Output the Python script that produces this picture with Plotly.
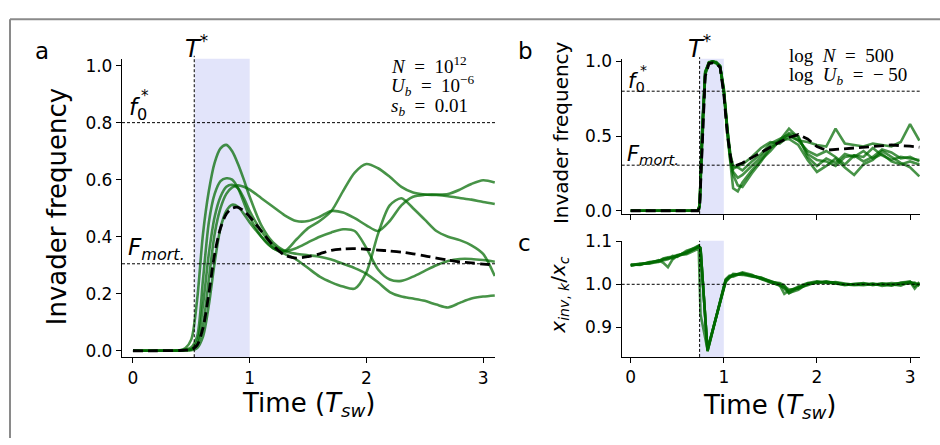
import plotly.graph_objects as go

W, H = 940, 445
def X(px): return px / W
def Y(py): return 1 - py / H

# ---------------- Panel a data ----------------
ta = [0, 0.2, 0.4, 0.45, 0.5, 0.55, 0.6, 0.65, 0.7, 0.75, 0.8, 0.85, 0.9, 0.95, 1.0,
      1.1, 1.2, 1.3, 1.4, 1.5, 1.6, 1.7, 1.8, 1.9, 2.0, 2.1, 2.2, 2.3, 2.4, 2.5,
      2.6, 2.7, 2.8, 2.9, 3.0, 3.1]
a_run1 = [0, 0, 0.002, 0.01, 0.04, 0.18, 0.41, 0.56, 0.66, 0.71, 0.722, 0.70, 0.655, 0.60, 0.54,
          0.44, 0.38, 0.35, 0.34, 0.335, 0.33, 0.32, 0.305, 0.29, 0.27, 0.24, 0.206, 0.19, 0.183, 0.175,
          0.162, 0.152, 0.168, 0.183, 0.19, 0.194]
a_run2 = [0, 0, 0.001, 0.004, 0.012, 0.05, 0.25, 0.45, 0.55, 0.595, 0.605, 0.60, 0.57, 0.52, 0.47,
          0.40, 0.36, 0.35, 0.39, 0.43, 0.455, 0.49, 0.56, 0.625, 0.655, 0.64, 0.61, 0.575, 0.555, 0.548,
          0.546, 0.542, 0.536, 0.53, 0.522, 0.515]
a_run3 = [0, 0, 0.001, 0.003, 0.006, 0.03, 0.16, 0.34, 0.47, 0.54, 0.575, 0.582, 0.57, 0.535, 0.49,
          0.42, 0.37, 0.35, 0.36, 0.38, 0.40, 0.415, 0.426, 0.42, 0.36, 0.285, 0.25, 0.245, 0.26, 0.28,
          0.30, 0.315, 0.322, 0.322, 0.318, 0.312]
a_run4 = [0, 0, 0.001, 0.002, 0.004, 0.02, 0.09, 0.25, 0.41, 0.50, 0.55, 0.573, 0.58, 0.575, 0.565,
          0.535, 0.505, 0.475, 0.455, 0.455, 0.47, 0.49, 0.485, 0.465, 0.44, 0.42, 0.455, 0.51, 0.54, 0.547,
          0.548, 0.55, 0.565, 0.585, 0.598, 0.59]
a_run5 = [0, 0, 0, 0.001, 0.002, 0.01, 0.05, 0.16, 0.31, 0.43, 0.49, 0.512, 0.505, 0.48, 0.45,
          0.40, 0.36, 0.34, 0.32, 0.29, 0.26, 0.24, 0.225, 0.218, 0.275, 0.41, 0.51, 0.535, 0.50, 0.46,
          0.42, 0.40, 0.388, 0.37, 0.34, 0.262]
a_mean = [0, 0, 0.001, 0.002, 0.004, 0.02, 0.08, 0.2, 0.34, 0.43, 0.48, 0.50, 0.503, 0.49, 0.47,
          0.42, 0.37, 0.335, 0.325, 0.33, 0.34, 0.352, 0.357, 0.358, 0.356, 0.353, 0.35, 0.346, 0.34, 0.333,
          0.325, 0.318, 0.312, 0.308, 0.304, 0.30]
a_runs = [a_run1, a_run2, a_run3, a_run4, a_run5]

# ---------------- Panel b data ----------------
tb = [0, 0.5, 0.72, 0.74, 0.77, 0.8, 0.84, 0.88, 0.92, 0.96, 1.0, 1.04, 1.07,
      1.1, 1.15, 1.2, 1.3, 1.4, 1.5, 1.6, 1.7, 1.8, 1.9, 2.0, 2.1, 2.2, 2.3, 2.4, 2.5,
      2.6, 2.7, 2.8, 2.9, 3.0, 3.1]
b_run1 = [0, 0, 0, 0.04, 0.58, 0.93, 0.99, 1.0, 0.99, 0.97, 0.81, 0.53, 0.37,
          0.28, 0.30, 0.31, 0.36, 0.42, 0.46, 0.45, 0.50, 0.47, 0.46, 0.44, 0.43, 0.55, 0.45, 0.44, 0.43,
          0.45, 0.44, 0.43, 0.46, 0.58, 0.47]
b_run2 = [0, 0, 0, 0.03, 0.55, 0.92, 0.99, 1.0, 0.99, 0.965, 0.80, 0.50, 0.33,
          0.15, 0.13, 0.19, 0.27, 0.34, 0.40, 0.47, 0.55, 0.49, 0.38, 0.34, 0.33, 0.30, 0.36, 0.37, 0.33,
          0.36, 0.41, 0.39, 0.35, 0.36, 0.33]
b_run3 = [0, 0, 0, 0.02, 0.52, 0.91, 0.985, 0.995, 0.985, 0.96, 0.79, 0.51, 0.34,
          0.24, 0.17, 0.16, 0.25, 0.33, 0.42, 0.46, 0.52, 0.50, 0.36, 0.30, 0.35, 0.32, 0.38, 0.36, 0.40,
          0.35, 0.38, 0.33, 0.31, 0.33, 0.31]
b_run4 = [0, 0, 0, 0.03, 0.56, 0.93, 0.995, 1.0, 0.995, 0.97, 0.82, 0.54, 0.38,
          0.30, 0.29, 0.27, 0.33, 0.38, 0.45, 0.48, 0.51, 0.47, 0.40, 0.37, 0.40, 0.36, 0.31, 0.37, 0.36,
          0.42, 0.37, 0.34, 0.36, 0.35, 0.34]
b_run5 = [0, 0, 0, 0.035, 0.57, 0.92, 0.99, 1.0, 0.99, 0.965, 0.80, 0.52, 0.35,
          0.26, 0.22, 0.24, 0.30, 0.36, 0.43, 0.47, 0.48, 0.44, 0.34, 0.26, 0.30, 0.35, 0.29, 0.24, 0.31,
          0.34, 0.40, 0.36, 0.32, 0.29, 0.23]
b_runs = [b_run1, b_run2, b_run3, b_run4, b_run5]
tbm = [0, 0.5, 0.72, 0.74, 0.77, 0.8, 0.84, 0.88, 0.92, 0.96, 1.0, 1.04, 1.08, 1.12, 1.2,
       1.3, 1.4, 1.5, 1.6, 1.7, 1.8, 1.9, 2.0, 2.1, 2.2, 2.4, 2.6, 2.8, 3.0, 3.1]
b_mean = [0, 0, 0.0, 0.02, 0.5, 0.9, 0.985, 0.99, 0.985, 0.96, 0.78, 0.5, 0.33, 0.30, 0.32,
          0.355, 0.39, 0.43, 0.46, 0.49, 0.51, 0.48, 0.43, 0.405, 0.41, 0.415, 0.43, 0.44, 0.432, 0.425]

# ---------------- Panel c data ----------------
tc = [0, 0.1, 0.2, 0.3, 0.35, 0.4, 0.45, 0.5, 0.6, 0.7, 0.73, 0.75, 0.825, 1.02, 1.06,
      1.1, 1.2, 1.3, 1.4, 1.5, 1.6, 1.65, 1.7, 1.8, 1.9, 2.0, 2.1, 2.2, 2.3, 2.4,
      2.5, 2.6, 2.7, 2.8, 2.9, 3.0, 3.05, 3.1]
c_run1 = [1.045, 1.046, 1.050, 1.055, 1.058, 1.060, 1.062, 1.065, 1.072, 1.083, 1.088, 1.085, 0.845, 1.010, 1.018,
          1.022, 1.025, 1.020, 1.015, 1.008, 1.000, 0.995, 0.988, 0.990, 1.000, 1.004, 1.006, 1.004, 1.000, 1.000,
          1.001, 1.000, 0.999, 0.998, 1.000, 1.004, 1.002, 1.000]
c_run2 = [1.043, 1.047, 1.049, 1.056, 1.050, 1.040, 1.058, 1.066, 1.075, 1.086, 1.090, 1.080, 0.850, 1.005, 1.015,
          1.020, 1.028, 1.022, 1.012, 1.004, 0.998, 0.978, 0.985, 0.992, 0.998, 1.006, 1.004, 1.002, 1.001, 0.998,
          1.000, 1.002, 0.996, 0.999, 1.002, 1.006, 0.990, 1.003]
c_run3 = [1.046, 1.045, 1.052, 1.054, 1.060, 1.063, 1.064, 1.068, 1.070, 1.080, 1.087, 0.930, 0.848, 1.008, 1.016,
          1.024, 1.022, 1.018, 1.014, 1.005, 1.003, 0.998, 0.980, 0.987, 1.002, 1.003, 1.007, 1.002, 0.998, 1.001,
          1.002, 0.999, 1.001, 1.000, 0.997, 1.005, 1.001, 0.998]
c_run4 = [1.044, 1.048, 1.048, 1.053, 1.057, 1.058, 1.066, 1.064, 1.078, 1.085, 1.089, 1.082, 0.846, 1.012, 1.020,
          1.018, 1.026, 1.019, 1.016, 1.006, 0.996, 0.992, 0.983, 0.995, 1.003, 1.007, 1.003, 1.005, 1.002, 0.999,
          0.998, 1.001, 1.000, 1.003, 1.001, 1.003, 1.004, 0.996]
c_run5 = [1.045, 1.046, 1.051, 1.052, 1.059, 1.061, 1.060, 1.067, 1.074, 1.084, 1.086, 1.084, 0.844, 1.009, 1.017,
          1.021, 1.024, 1.021, 1.013, 1.007, 1.001, 0.990, 0.979, 0.993, 1.001, 1.005, 1.005, 1.003, 0.999, 1.000,
          1.003, 0.998, 1.002, 0.997, 1.004, 1.006, 0.995, 1.005]
c_runs = [c_run1, c_run2, c_run3, c_run4, c_run5]

# reference levels
F0_STAR = 0.8
F_MORT = 0.305
T_STAR_A = 0.525
T_STAR_BC = 0.74
SHADE_A = (0.53, 1.0)
SHADE_BC = (0.74, 1.0)
X_TICKS = [0, 1, 2, 3]

GREEN = "rgba(0,105,0,0.72)"
FONT = "DejaVu Sans"

fig = go.Figure()
for r in a_runs:
    fig.add_trace(go.Scatter(x=ta, y=r, mode="lines", line=dict(color=GREEN, width=2.6, shape="spline", smoothing=0.8),
                             xaxis="x", yaxis="y", showlegend=False, hoverinfo="skip"))
fig.add_trace(go.Scatter(x=ta, y=a_mean, mode="lines", line=dict(color="black", width=2.8, dash="10px,5px", shape="spline", smoothing=0.8),
                         xaxis="x", yaxis="y", showlegend=False))
for r in b_runs:
    fig.add_trace(go.Scatter(x=tb, y=r, mode="lines", line=dict(color=GREEN, width=2.6),
                             xaxis="x2", yaxis="y2", showlegend=False, hoverinfo="skip"))
fig.add_trace(go.Scatter(x=tbm, y=b_mean, mode="lines", line=dict(color="black", width=2.8, dash="10px,5px"),
                         xaxis="x2", yaxis="y2", showlegend=False))
for r in c_runs:
    fig.add_trace(go.Scatter(x=tc, y=r, mode="lines", line=dict(color=GREEN, width=2.6),
                             xaxis="x3", yaxis="y3", showlegend=False, hoverinfo="skip"))

shapes = []
def shade(xr, xa, ya):
    shapes.append(dict(type="rect", xref=xa, yref=ya + " domain", x0=xr[0], x1=xr[1], y0=0, y1=1,
                       fillcolor="#e2e4fa", line=dict(width=0), layer="below"))
def hline(yv, xa, ya):
    shapes.append(dict(type="line", xref=xa + " domain", yref=ya, x0=0, x1=1, y0=yv, y1=yv,
                       line=dict(color="black", width=1, dash="3px,2px")))
def vline(xv, xa, ya, top=1.0):
    shapes.append(dict(type="line", xref=xa, yref=ya + " domain", x0=xv, x1=xv, y0=0, y1=top,
                       line=dict(color="black", width=1, dash="3px,2px")))

shade(SHADE_A, "x", "y"); shade(SHADE_BC, "x2", "y2"); shade(SHADE_BC, "x3", "y3")
hline(F0_STAR, "x", "y"); hline(F_MORT, "x", "y"); vline(T_STAR_A, "x", "y", 1.01)
hline(F0_STAR, "x2", "y2"); hline(F_MORT, "x2", "y2"); vline(T_STAR_BC, "x2", "y2", 1.01)
hline(1.0, "x3", "y3"); vline(T_STAR_BC, "x3", "y3")
# figure frame (top and left edges)
shapes.append(dict(type="line", xref="paper", yref="paper", x0=X(10), x1=1.0, y0=Y(9.5), y1=Y(9.5),
                   line=dict(color="#8a8a8a", width=2)))
shapes.append(dict(type="line", xref="paper", yref="paper", x0=X(10), x1=X(10), y0=0, y1=Y(9.5),
                   line=dict(color="#8a8a8a", width=2)))

axis_common = dict(showline=True, linecolor="black", linewidth=1.3, ticks="outside", ticklen=5, tickwidth=1.3,
                   tickcolor="black", showgrid=False, zeroline=False, mirror=False,
                   tickfont=dict(family=FONT, size=17, color="black"))

fig.update_layout(
    width=W, height=H, autosize=False, margin=dict(l=0, r=0, t=0, b=0, pad=0),
    paper_bgcolor="white", plot_bgcolor="white",
    xaxis=dict(domain=[X(122), X(495)], range=[-0.094, 3.102], tickvals=X_TICKS, anchor="y", **axis_common),
    yaxis=dict(domain=[Y(361), Y(50.7)], range=[-0.0226, 1.024], tickvals=[0, 0.2, 0.4, 0.6, 0.8, 1.0],
               tickformat=".1f", anchor="x", **axis_common),
    xaxis2=dict(domain=[X(621.7), X(920)], range=[-0.0967, 3.107], tickvals=X_TICKS, showticklabels=False,
                anchor="y2", **axis_common),
    yaxis2=dict(domain=[Y(212), Y(50.7)], range=[-0.021, 1.017], tickvals=[0, 0.5, 1.0], tickformat=".1f",
                anchor="x2", **axis_common),
    xaxis3=dict(domain=[X(621.7), X(920)], range=[-0.0967, 3.107], tickvals=X_TICKS, anchor="y3", **axis_common),
    yaxis3=dict(domain=[Y(360.7), Y(240)], range=[0.8313, 1.101], tickvals=[0.9, 1.0, 1.1], tickformat=".1f",
                anchor="x3", **axis_common),
    shapes=shapes,
)

ann = []
def text(px, py, s, size, family=FONT, xanchor="left", yanchor="middle", angle=0):
    ann.append(dict(x=X(px), y=Y(py), xref="paper", yref="paper", text=s, showarrow=False,
                    xanchor=xanchor, yanchor=yanchor, textangle=angle,
                    font=dict(family=family, size=size, color="black")))

# panel letters
text(33, 43, "a", 23)
text(516, 43, "b", 23)
text(516, 242, "c", 23)
# axis titles
text(57, 205, "Invader frequency", 26, xanchor="center", angle=-90)
text(308, 410, "Time (<i>T</i><sub><i>sw</i></sub>)", 26, xanchor="center")
text(561, 128, "Invader frequency", 20, xanchor="center", angle=-90)
text(559, 296, "<i>x</i><sub><i>inv</i>, <i>k</i></sub>/<i>x</i><sub><i>c</i></sub>", 20, xanchor="center", angle=-90)
text(769, 412, "Time (<i>T</i><sub><i>sw</i></sub>)", 26, xanchor="center")
# T* labels
text(196, 38, "<i>T</i><sup>*</sup>", 24, xanchor="center")
text(699, 38, "<i>T</i><sup>*</sup>", 24, xanchor="center")
# f0* and F_mort labels
text(127, 103, "<i>f</i><sub>0</sub>", 23)
text(139, 89, "*", 15)
text(626, 75, "<i>f</i><sub>0</sub>", 21)
text(638, 62, "*", 14)
text(126, 249, "<i>F</i><sub><i>mort.</i></sub>", 23)
text(625, 151, "<i>F</i><sub><i>mort.</i></sub>", 21)
# parameter text
SERIF = "Liberation Serif"
SP = "\u2002"
text(389, 57, "<i>N</i>" + SP + "=" + SP + "10<sup>12</sup>", 19, family=SERIF)
text(389, 78, "<i>U</i><sub><i>b</i></sub>" + SP + "=" + SP + "10<sup>−6</sup>", 19, family=SERIF)
text(389, 101, "<i>s</i><sub><i>b</i></sub>" + SP + "=" + SP + "0.01", 19, family=SERIF)
text(787, 47, "log" + SP + "<i>N</i>" + SP + "=" + SP + "500", 19, family=SERIF)
text(787, 69, "log" + SP + "<i>U</i><sub><i>b</i></sub>" + SP + "=" + SP + "− 50", 19, family=SERIF)

fig.update_layout(annotations=ann)

PAGE_JS = (
    "var de=document.documentElement, b=document.body;"
    "de.style.margin='0'; de.style.padding='0'; de.style.overflow='hidden'; de.style.height='445px';"
    "b.style.margin='0'; b.style.padding='0'; b.style.overflow='hidden'; b.style.height='445px';"
)
fig.write_html("out.html", config={"responsive": False, "displayModeBar": False}, post_script=PAGE_JS)
